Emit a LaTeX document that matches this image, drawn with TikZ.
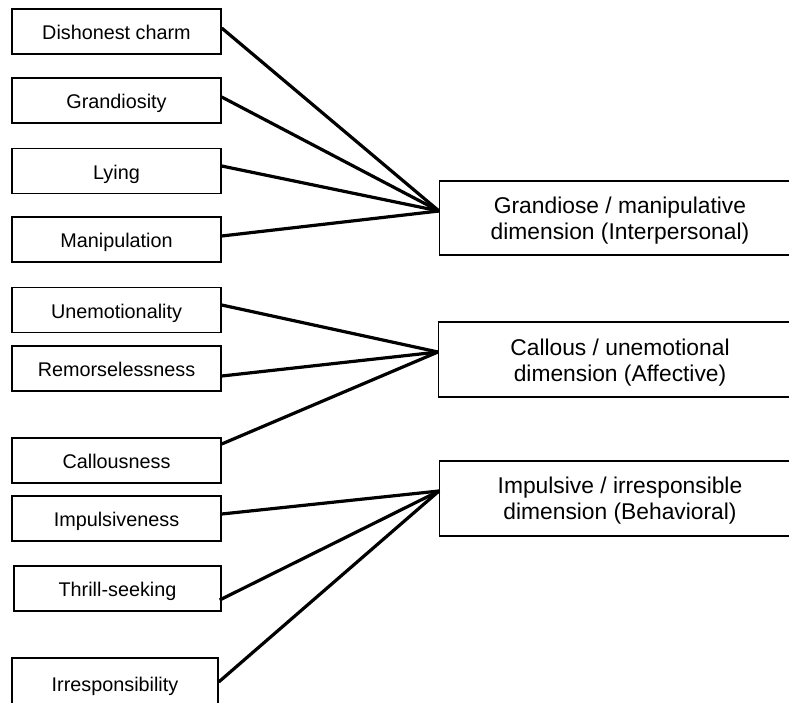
\documentclass[tikz,border=0pt]{standalone}
\usepackage{fontspec}
\setmainfont{Liberation Sans}
\begin{document}
\begin{tikzpicture}[x=1pt,y=-1pt,
  trait/.style={draw=black, line width=1.4pt, fill=white, inner sep=0pt,
    minimum width=209pt, minimum height=45pt, text height=16.6pt, text depth=0pt,
    font=\fontsize{19.8}{23}\selectfont},
  dimbox/.style={draw=black, line width=1.4pt, fill=white, inner sep=0pt,
    minimum width=420pt, minimum height=75pt},
  dimtext/.style={inner sep=0pt, align=center, font=\fontsize{22.8}{26}\selectfont},
  link/.style={draw=black, line width=3.2pt}]
\useasboundingbox (0,0) rectangle (789,702);
\clip (0,0) rectangle (789,702);

% trait boxes on the left
\node[trait] (dc) at (116.5,31.5) {Dishonest charm};
\node[trait] (gr) at (116.5,100.5) {Grandiosity};
\node[trait] (ly) at (116.5,171) {Lying};
\node[trait] (ma) at (116.5,239.5) {Manipulation};
\node[trait] (un) at (116.5,310) {Unemotionality};
\node[trait] (re) at (116.5,368.5) {Remorselessness};
\node[trait] (ca) at (116.5,460.5) {Callousness};
\node[trait] (im) at (116.5,518.5) {Impulsiveness};
\node[trait, minimum width=207pt] (th) at (117.5,588.5) {Thrill-seeking};
\node[trait, minimum width=206pt, minimum height=52pt, text height=14pt] (ir) at (115,684) {Irresponsibility};

% dimension boxes on the right (running past the right edge)
\node[dimbox, minimum height=74pt, anchor=west] (gm) at (439,218) {};
\node[dimbox, anchor=west] (cu) at (438,359.5) {};
\node[dimbox, anchor=west] (ip) at (439,498.5) {};
\node[dimtext] (gmt) at (620,221) {Grandiose / manipulative\\dimension (Interpersonal)};
\node[dimtext] (cut) at (620,362.5) {Callous / unemotional\\dimension (Affective)};
\node[dimtext] (ipt) at (620,501) {Impulsive / irresponsible\\dimension (Behavioral)};

% meeting points on the dimension boxes
\coordinate (gmin) at ([yshift=7pt]gm.west);
\coordinate (cuin) at ([yshift=7.5pt]cu.west);
\coordinate (ipin) at ([yshift=7.5pt]ip.west);

% connectors
\draw[link] ([yshift=3.5pt]dc.east) -- (gmin);
\draw[link] ([yshift=3.5pt]gr.east) -- (gmin);
\draw[link] ([yshift=5pt]ly.east) -- (gmin);
\draw[link] ([yshift=3.5pt]ma.east) -- (gmin);
\draw[link] ([yshift=5pt]un.east) -- (cuin);
\draw[link] ([yshift=-7.5pt]re.east) -- (cuin);
\draw[link] ([yshift=16.5pt]ca.east) -- (cuin);
\draw[link] ([yshift=4.5pt]im.east) -- (ipin);
\draw[link] ([xshift=-2pt,yshift=-11.5pt]th.east) -- (ipin);
\draw[link] ([yshift=2pt]ir.east) -- (ipin);
\end{tikzpicture}
\end{document}
